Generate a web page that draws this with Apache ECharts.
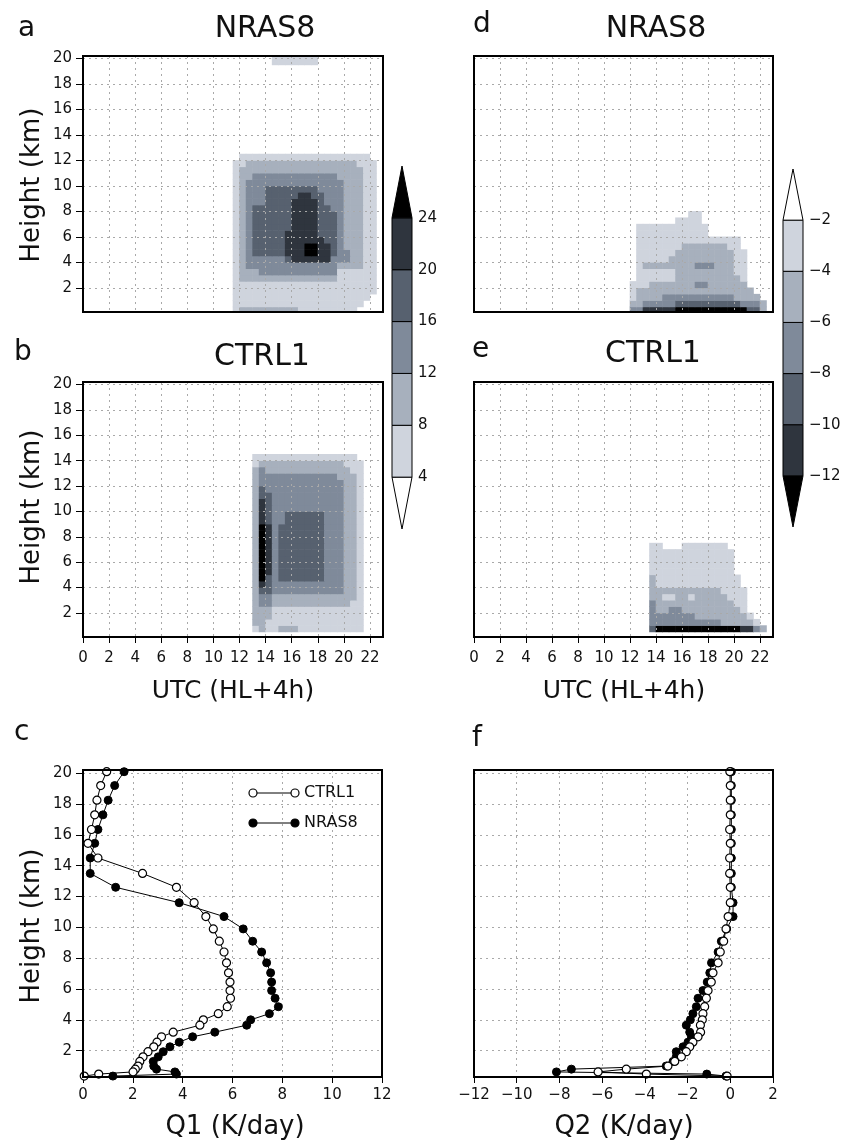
<!DOCTYPE html>
<html>
<head>
<meta charset="utf-8">
<script src="https://cdn.jsdelivr.net/npm/echarts@6/dist/echarts.min.js"></script>
<style>html,body{margin:0;padding:0;background:#fff}#chart{width:859px;height:1142px}</style>
</head>
<body>
<div id="chart"></div>
<script>
// ---------------- DATA ----------------
// time columns (UTC hour, cell centres) shared by the four time-height panels
const hourCols = [11.75,12.25,12.75,13.25,13.75,14.25,14.75,15.25,15.75,16.25,16.75,17.25,17.75,18.25,18.75,19.25,19.75,20.25,20.75,21.25,21.75,22.25,22.75];

// (a) Q1, NRAS8  (K/day) - rows at these heights (km)
const heightsA = [0.25,0.75,1.25,1.75,2.25,2.75,3.25,3.75,4.25,4.75,5.25,5.75,6.25,6.75,7.25,7.75,8.25,8.75,9.25,9.75,10.25,10.75,11.25,11.75,12.25,19.75,20.25];
const q1NRAS8 = [
 [6,10,10,10,10,10,10,10,10,10,6,6,6,6,6,6,6,6,6,0,0,0,0],
 [6,6,6,6,6,6,6,6,6,6,6,6,6,6,6,6,6,6,6,6,0,0,0],
 [6,6,6,6,6,6,6,6,6,6,6,6,6,6,6,6,6,6,6,6,6,0,0],
 [6,6,6,6,6,6,6,6,6,6,6,6,6,6,6,6,6,6,6,6,6,6,0],
 [6,6,6,6,6,6,6,6,6,6,6,6,6,6,6,6,6,6,6,6,6,6,0],
 [6,10,10,10,10,10,10,10,10,10,10,10,10,10,10,10,6,6,6,6,6,6,0],
 [6,10,10,10,14,14,14,14,14,14,14,14,14,14,14,14,6,6,6,6,6,6,0],
 [6,10,14,14,14,14,14,14,14,14,14,14,14,14,14,14,10,10,10,10,6,6,0],
 [6,10,14,14,14,14,14,14,18,22,22,22,22,22,22,14,14,14,10,10,6,6,0],
 [6,10,14,18,18,18,18,18,22,22,22,26,26,22,22,18,14,14,10,10,6,6,0],
 [6,10,14,18,18,18,18,18,22,22,22,26,26,22,22,18,14,10,10,10,6,6,0],
 [6,10,14,18,18,18,18,18,22,22,22,22,22,22,18,18,14,10,10,10,6,6,0],
 [6,10,14,18,18,18,18,18,22,22,22,22,22,18,18,18,14,10,10,10,6,6,0],
 [6,10,14,18,18,18,18,18,18,22,22,22,22,18,18,18,14,10,10,10,6,6,0],
 [6,10,14,18,18,18,18,18,18,22,22,22,22,18,18,18,14,10,10,10,6,6,0],
 [6,10,14,18,18,18,18,18,18,22,22,22,22,18,18,18,14,10,10,10,6,6,0],
 [6,10,14,18,18,18,18,18,18,22,22,22,22,18,18,14,14,10,10,10,6,6,0],
 [6,10,14,14,14,18,18,18,18,22,22,22,22,18,14,14,14,10,10,10,6,6,0],
 [6,10,14,14,14,18,18,18,18,18,22,22,18,18,14,14,14,10,10,10,6,6,0],
 [6,10,14,14,14,18,18,18,18,18,18,18,18,14,14,14,14,10,10,10,6,6,0],
 [6,10,14,14,14,14,14,14,14,14,14,14,14,14,14,14,14,10,10,10,6,6,0],
 [6,10,10,14,14,14,14,14,14,14,14,14,14,14,14,14,10,10,10,10,6,6,0],
 [6,10,10,10,10,10,10,10,10,10,10,10,10,10,10,10,10,10,10,10,6,6,0],
 [6,6,10,10,10,10,10,10,10,10,10,10,10,10,10,10,10,10,10,6,6,6,0],
 [0,6,6,6,6,6,6,6,6,6,6,6,6,6,6,6,6,6,6,6,6,0,0],
 [0,0,0,0,0,0,6,6,6,6,6,6,6,0,0,0,0,0,0,0,0,0,0],
 [0,0,0,0,0,0,6,6,6,6,6,6,6,0,0,0,0,0,0,0,0,0,0]
];

// (b) Q1, CTRL1
const heightsB = [0.75,1.25,1.75,2.25,2.75,3.25,3.75,4.25,4.75,5.25,5.75,6.25,6.75,7.25,7.75,8.25,8.75,9.25,9.75,10.25,10.75,11.25,11.75,12.25,12.75,13.25,13.75,14.25];
const q1CTRL1 = [
 [0,0,0,6,10,6,6,10,10,10,6,6,6,6,6,6,6,6,6,6,0,0,0],
 [0,0,0,10,10,6,6,6,6,6,6,6,6,6,6,6,6,6,6,6,0,0,0],
 [0,0,0,10,10,10,6,6,6,6,6,6,6,6,6,6,6,6,6,6,0,0,0],
 [0,0,0,10,10,10,6,6,6,6,6,6,6,6,6,6,6,6,6,6,0,0,0],
 [0,0,0,10,14,14,10,10,10,10,10,10,10,10,10,10,10,10,6,6,0,0,0],
 [0,0,0,10,14,14,10,10,10,10,10,10,10,10,10,10,10,10,10,6,0,0,0],
 [0,0,0,10,18,18,14,14,14,14,14,14,14,14,14,14,14,10,10,6,0,0,0],
 [0,0,0,10,22,18,14,14,14,14,14,14,14,14,14,14,14,10,10,6,0,0,0],
 [0,0,0,10,26,18,14,18,18,18,18,18,18,18,14,14,14,10,10,6,0,0,0],
 [0,0,0,10,26,22,14,18,18,18,18,18,18,18,14,14,14,10,10,6,0,0,0],
 [0,0,0,10,26,22,14,18,18,18,18,18,18,18,14,14,14,10,10,6,0,0,0],
 [0,0,0,10,26,22,14,18,18,18,18,18,18,18,14,14,14,10,10,6,0,0,0],
 [0,0,0,10,26,22,14,18,18,18,18,18,18,18,14,14,14,10,10,6,0,0,0],
 [0,0,0,10,26,22,14,18,18,18,18,18,18,18,14,14,14,10,10,6,0,0,0],
 [0,0,0,10,26,22,14,18,18,18,18,18,18,18,14,14,14,10,10,6,0,0,0],
 [0,0,0,10,26,22,14,18,18,18,18,18,18,18,14,14,14,10,10,6,0,0,0],
 [0,0,0,10,26,22,14,18,18,18,18,18,18,18,14,14,14,10,10,6,0,0,0],
 [0,0,0,10,22,18,14,14,18,18,18,18,18,18,14,14,14,10,10,6,0,0,0],
 [0,0,0,10,22,18,14,14,18,18,18,18,18,18,14,14,14,10,10,6,0,0,0],
 [0,0,0,10,22,18,14,14,14,14,14,14,14,14,14,14,14,10,10,6,0,0,0],
 [0,0,0,10,22,18,14,14,14,14,14,14,14,14,14,14,14,10,10,6,0,0,0],
 [0,0,0,10,18,18,14,14,14,14,14,14,14,14,14,14,14,10,10,6,0,0,0],
 [0,0,0,10,18,14,14,14,14,14,14,14,14,14,14,14,14,10,10,6,0,0,0],
 [0,0,0,10,14,14,14,14,14,14,14,14,14,14,14,14,14,10,10,6,0,0,0],
 [0,0,0,10,14,14,14,14,14,14,14,14,14,14,14,14,10,10,10,6,0,0,0],
 [0,0,0,10,14,10,10,10,10,10,10,10,10,10,10,10,10,10,6,6,0,0,0],
 [0,0,0,6,10,10,10,10,10,10,10,10,10,10,10,10,10,6,6,6,0,0,0],
 [0,0,0,6,6,6,6,6,6,6,6,6,6,6,6,6,6,6,6,0,0,0,0]
];

// (d) Q2, NRAS8
const heightsD = [0.25,0.75,1.25,1.75,2.25,2.75,3.25,3.75,4.25,4.75,5.25,5.75,6.25,6.75,7.25,7.75];
const q2NRAS8 = [
 [0,-7,-7,-11,-11,-11,-11,-11,-13,-13,-13,-13,-13,-13,-13,-13,-13,-13,-13,-9,-9,-5,0],
 [0,-5,-5,-7,-7,-7,-7,-7,-9,-9,-9,-9,-9,-9,-9,-9,-9,-9,-7,-7,-7,-5,0],
 [0,-3,-5,-5,-5,-5,-7,-7,-7,-7,-7,-7,-7,-7,-7,-7,-7,-5,-5,-5,-5,0,0],
 [0,-3,-5,-5,-5,-5,-5,-5,-5,-5,-5,-5,-5,-5,-5,-5,-5,-5,-5,-5,0,0,0],
 [0,-3,-3,-3,-5,-5,-5,-5,-5,-5,-5,-7,-7,-5,-5,-5,-5,-5,-5,0,0,0,0],
 [0,0,-3,-3,-3,-3,-3,-3,-5,-5,-5,-5,-5,-5,-5,-5,-5,-5,-3,0,0,0,0],
 [0,0,-3,-3,-3,-3,-3,-3,-5,-5,-5,-5,-5,-5,-5,-5,-5,-3,-3,0,0,0,0],
 [0,0,-3,-5,-5,-5,-5,-5,-5,-5,-5,-7,-7,-7,-5,-5,-5,-3,-3,0,0,0,0],
 [0,0,-3,-3,-3,-3,-3,-5,-5,-5,-5,-5,-5,-5,-5,-5,-5,-3,-3,0,0,0,0],
 [0,0,-3,-3,-3,-3,-3,-3,-5,-5,-5,-5,-5,-5,-5,-5,-5,-3,-3,0,0,0,0],
 [0,0,-3,-3,-3,-3,-3,-3,-3,-5,-5,-5,-5,-5,-5,-5,-3,-3,0,0,0,0,0],
 [0,0,-3,-3,-3,-3,-3,-3,-3,-3,-3,-3,-3,-3,-3,-3,-3,-3,0,0,0,0,0],
 [0,0,-3,-3,-3,-3,-3,-3,-3,-3,-3,-3,-3,0,0,0,0,0,0,0,0,0,0],
 [0,0,-3,-3,-3,-3,-3,-3,-3,-3,-3,-3,-3,0,0,0,0,0,0,0,0,0,0],
 [0,0,0,0,0,0,0,0,-3,-3,-3,-3,0,0,0,0,0,0,0,0,0,0,0],
 [0,0,0,0,0,0,0,0,0,0,-3,-3,0,0,0,0,0,0,0,0,0,0,0]
];

// (e) Q2, CTRL1
const heightsE = [0.75,1.25,1.75,2.25,2.75,3.25,3.75,4.25,4.75,5.25,5.75,6.25,6.75,7.25];
const q2CTRL1 = [
 [0,0,0,0,-9,-13,-13,-13,-13,-13,-13,-13,-13,-13,-13,-13,-13,-13,-11,-11,-7,-5,0],
 [0,0,0,0,-7,-7,-7,-7,-7,-7,-7,-7,-7,-7,-7,-5,-5,-5,-5,-5,-3,0,0],
 [0,0,0,0,-7,-7,-7,-7,-7,-7,-7,-5,-5,-5,-5,-5,-5,-5,-5,-3,0,0,0],
 [0,0,0,0,-7,-5,-5,-7,-7,-5,-5,-5,-5,-5,-5,-5,-5,-5,-3,0,0,0,0],
 [0,0,0,0,-7,-5,-5,-5,-5,-5,-5,-5,-5,-5,-5,-5,-5,-3,-3,0,0,0,0],
 [0,0,0,0,-5,-5,-3,-3,-5,-5,-3,-5,-5,-5,-5,-5,-3,-3,-3,0,0,0,0],
 [0,0,0,0,-5,-5,-5,-5,-5,-5,-5,-5,-5,-5,-5,-3,-3,-3,-3,0,0,0,0],
 [0,0,0,0,-5,-3,-3,-3,-3,-3,-3,-3,-3,-3,-3,-3,-3,-3,0,0,0,0,0],
 [0,0,0,0,-5,-3,-3,-3,-3,-3,-3,-3,-3,-3,-3,-3,-3,-3,0,0,0,0,0],
 [0,0,0,0,-3,-3,-3,-3,-3,-3,-3,-3,-3,-3,-3,-3,-3,0,0,0,0,0,0],
 [0,0,0,0,-3,-3,-3,-3,-3,-3,-3,-3,-3,-3,-3,-3,-3,0,0,0,0,0,0],
 [0,0,0,0,-3,-3,-3,-3,-3,-3,-3,-3,-3,-3,-3,-3,-3,0,0,0,0,0,0],
 [0,0,0,0,-3,-3,-3,-3,-3,-3,-3,-3,-3,-3,-3,-3,-3,0,0,0,0,0,0],
 [0,0,0,0,-3,-3,0,0,0,-3,-3,-3,-3,-3,-3,-3,0,0,0,0,0,0,0]
];

// (c),(f) daily-mean profiles on model levels (km)
const profileKm = [20.1,19.2,18.25,17.3,16.35,15.45,14.5,13.5,12.6,11.6,10.7,9.9,9.1,8.4,7.7,7.05,6.45,5.9,5.4,4.85,4.4,4.0,3.65,3.2,2.9,2.55,2.25,1.93,1.6,1.3,1.0,0.8,0.62,0.48,0.35];
const q1ProfileCTRL1 = [0.95,0.71,0.56,0.47,0.34,0.20,0.60,2.39,3.75,4.46,4.93,5.23,5.47,5.66,5.76,5.84,5.90,5.90,5.92,5.79,5.43,4.83,4.69,3.62,3.15,2.97,2.84,2.61,2.41,2.28,2.21,2.10,2.01,0.63,0.05];
const q1ProfileNRAS8 = [1.65,1.27,1.01,0.80,0.60,0.47,0.29,0.29,1.31,3.86,5.66,6.43,6.81,7.17,7.37,7.53,7.57,7.57,7.71,7.84,7.48,6.73,6.57,5.29,4.40,3.86,3.49,3.22,3.02,2.82,2.84,2.95,3.69,3.75,1.20];
const q2ProfileCTRL1 = [-0.02,0.0,0.0,0.0,-0.03,0.0,-0.03,-0.03,0.0,0.0,-0.10,-0.20,-0.31,-0.47,-0.57,-0.81,-0.89,-1.04,-1.12,-1.20,-1.28,-1.31,-1.40,-1.39,-1.51,-1.75,-1.90,-2.06,-2.29,-2.60,-2.92,-4.87,-6.19,-3.93,-0.15];
const q2ProfileNRAS8 = [0.05,0.05,0.05,0.05,0.05,0.05,0.05,0.05,0.05,0.13,0.13,-0.17,-0.42,-0.57,-0.88,-0.96,-1.08,-1.28,-1.51,-1.59,-1.75,-1.87,-2.06,-1.90,-1.82,-1.98,-2.21,-2.53,-2.53,-2.68,-3.00,-7.44,-8.14,-1.10,-0.20];

// contour levels & tick labels
const q1Levels = [4,8,12,16,20,24];
const q2Levels = [-12,-10,-8,-6,-4,-2];
const heightTicks = [2,4,6,8,10,12,14,16,18,20];
const utcTicks = [0,2,4,6,8,10,12,14,16,18,20,22];

// ---------------- STYLE ----------------
const shades = ['#cfd4dd','#a7b0bd','#7f8a9a','#57616f','#2f353e','#000000'];
const FONT = '"DejaVu Sans", "Liberation Sans", sans-serif';
const CELL_HALF_W = 0.25, CELL_HALF_H = 0.25;

function q1Color(v){ let c=-1; q1Levels.forEach((l,i)=>{ if(v>=l) c=i; }); return c<0?null:shades[c]; }
function q2Color(v){ let c=-1; q2Levels.slice().reverse().forEach((l,i)=>{ if(v<=l) c=i; }); return c<0?null:shades[c]; }

function cells(rows, heights){
  const out=[];
  rows.forEach((row,i)=>row.forEach((v,k)=>{ if(v!==0) out.push([hourCols[k], heights[i], v]); }));
  return out;
}
function cellRender(colorFn){
  return function(params, api){
    const x=api.value(0), y=api.value(1), v=api.value(2);
    const fill=colorFn(v); if(!fill) return null;
    const p0=api.coord([x-CELL_HALF_W, y+CELL_HALF_H]);
    const p1=api.coord([x+CELL_HALF_W, y-CELL_HALF_H]);
    const cs=params.coordSys;
    const r=echarts.graphic.clipRectByRect(
      {x:p0[0]-0.3, y:p0[1]-0.3, width:p1[0]-p0[0]+0.6, height:p1[1]-p0[1]+0.6},
      {x:cs.x, y:cs.y, width:cs.width, height:cs.height});
    return r ? {type:'rect', shape:r, style:{fill:fill}} : null;
  };
}

const layout = {
  a:{left:83, top:56, width:300, height:256},
  b:{left:83, top:382, width:300, height:255},
  d:{left:474, top:56, width:299, height:256},
  e:{left:474, top:382, width:299, height:255},
  c:{left:83, top:770, width:299, height:307},
  f:{left:474, top:770, width:299, height:307},
  cb1:{left:392, top:166, width:20, height:363},
  cb2:{left:783, top:169, width:20, height:358}
};
const order = ['a','b','d','e','c','f','cb1','cb2'];

const gridLine = {show:true, lineStyle:{color:'#a9a9a9', width:1, type:[2,4]}};
const labelStyle = {color:'#111', fontSize:15, fontFamily:FONT};
const minus = v => (v<0 ? '\u2212'+Math.abs(v) : String(v));

function utcAxis(gi, labels){
  return {type:'value', gridIndex:gi, min:0, max:23, interval:2, z:3,
    axisLine:{show:false},
    axisTick:{show:labels, length:6, customValues:utcTicks, lineStyle:{color:'#000'}},
    axisLabel:{show:labels, margin:14, ...labelStyle, customValues:utcTicks},
    splitLine:gridLine};
}
function heightAxis(gi, labels, min, max){
  return {type:'value', gridIndex:gi, min:min, max:max, z:3,
    axisLine:{show:false},
    axisTick:{show:labels, length:7, customValues:heightTicks, lineStyle:{color:'#000'}},
    axisLabel:{show:labels, margin:11, ...labelStyle, customValues:heightTicks},
    splitLine:gridLine};
}

// colour-bar pieces: [low, high, kind]  kind -1 lower arrow, 0 box, 1 upper arrow
function barPieces(levels, lo, hi){
  const p=[[lo, levels[0], -1]];
  for(let i=0;i<levels.length-1;i++) p.push([levels[i], levels[i+1], 0]);
  p.push([levels[levels.length-1], hi, 1]);
  return p;
}
function barRender(fills){
  return function(params, api){
    const lo=api.value(0), hi=api.value(1), kind=api.value(2);
    const a=api.coord([0, hi]), b=api.coord([1, lo]);
    const fill=fills[params.dataIndex];
    const st={fill:fill, stroke:'#000', lineWidth:1};
    if(kind===0) return {type:'rect', shape:{x:a[0], y:a[1], width:b[0]-a[0], height:b[1]-a[1]}, style:st};
    const mid=(a[0]+b[0])/2;
    const pts = kind<0 ? [[a[0],a[1]],[b[0],a[1]],[mid,b[1]]] : [[a[0],b[1]],[b[0],b[1]],[mid,a[1]]];
    return {type:'polygon', shape:{points:pts}, style:st};
  };
}
const q1BarFills = ['#ffffff'].concat(shades);               // under, 4-8 ... 20-24, over
const q2BarFills = ['#000000'].concat(shades.slice(0,5).reverse()).concat(['#ffffff']);

function profileSeries(name, xs, gi, open){
  return {type:'line', name:name, xAxisIndex:gi, yAxisIndex:gi, z:4,
    data: profileKm.map((h,i)=>[xs[i], h]),
    symbol:'circle', symbolSize:8, showSymbol:true, clip:true,
    lineStyle:{color:'#000', width:1},
    itemStyle: open ? {color:'#fff', borderColor:'#000', borderWidth:1.2} : {color:'#000', borderColor:'#000', borderWidth:1},
    emphasis:{disabled:true}, animation:false};
}

const grids = order.map(k=>({left:layout[k].left, top:layout[k].top, width:layout[k].width, height:layout[k].height, show:false}));

const xAxes = [
  utcAxis(0,false), utcAxis(1,true), utcAxis(2,false), utcAxis(3,true),
  {type:'value', gridIndex:4, min:0, max:12, interval:2, z:3, axisLine:{show:false},
   axisTick:{show:true, length:6, lineStyle:{color:'#000'}}, axisLabel:{margin:11, ...labelStyle}, splitLine:gridLine},
  {type:'value', gridIndex:5, min:-12, max:2, interval:2, z:3, axisLine:{show:false},
   axisTick:{show:true, length:6, lineStyle:{color:'#000'}}, axisLabel:{margin:11, ...labelStyle, formatter:minus}, splitLine:gridLine},
  {type:'value', gridIndex:6, min:0, max:1, show:false},
  {type:'value', gridIndex:7, min:0, max:1, show:false}
];
const yAxes = [
  heightAxis(0,true,0.1,20.2), heightAxis(1,true,0.1,20.2),
  heightAxis(2,false,0.1,20.2), heightAxis(3,false,0.1,20.2),
  heightAxis(4,true,0.29,20.21), heightAxis(5,false,0.29,20.21),
  {type:'value', gridIndex:6, min:0, max:28, position:'right', axisLine:{show:false}, splitLine:{show:false},
   axisTick:{show:true, length:4, customValues:q1Levels, lineStyle:{color:'#000'}},
   axisLabel:{margin:6, ...labelStyle, customValues:q1Levels}},
  {type:'value', gridIndex:7, min:-14, max:0, position:'right', axisLine:{show:false}, splitLine:{show:false},
   axisTick:{show:true, length:4, customValues:q2Levels, lineStyle:{color:'#000'}},
   axisLabel:{margin:6, ...labelStyle, customValues:q2Levels, formatter:minus}}
];

const series = [
  {type:'custom', xAxisIndex:0, yAxisIndex:0, z:1, data:cells(q1NRAS8,heightsA), renderItem:cellRender(q1Color), encode:{x:0,y:1}, animation:false, silent:true},
  {type:'custom', xAxisIndex:1, yAxisIndex:1, z:1, data:cells(q1CTRL1,heightsB), renderItem:cellRender(q1Color), encode:{x:0,y:1}, animation:false, silent:true},
  {type:'custom', xAxisIndex:2, yAxisIndex:2, z:1, data:cells(q2NRAS8,heightsD), renderItem:cellRender(q2Color), encode:{x:0,y:1}, animation:false, silent:true},
  {type:'custom', xAxisIndex:3, yAxisIndex:3, z:1, data:cells(q2CTRL1,heightsE), renderItem:cellRender(q2Color), encode:{x:0,y:1}, animation:false, silent:true},
  profileSeries('NRAS8', q1ProfileNRAS8, 4, false),
  profileSeries('CTRL1', q1ProfileCTRL1, 4, true),
  profileSeries('NRAS8', q2ProfileNRAS8, 5, false),
  profileSeries('CTRL1', q2ProfileCTRL1, 5, true),
  {type:'custom', xAxisIndex:6, yAxisIndex:6, z:2, data:barPieces(q1Levels,0,28), renderItem:barRender(q1BarFills), encode:{y:[0,1]}, animation:false, silent:true},
  {type:'custom', xAxisIndex:7, yAxisIndex:7, z:2, data:barPieces(q2Levels,-14,0), renderItem:barRender(q2BarFills), encode:{y:[0,1]}, animation:false, silent:true}
];

// ---------------- TEXT / FRAMES ----------------
function txt(x,y,s,size,align,rot){
  const o={type:'text', x:x, y:y, z:100, silent:true,
    style:{text:s, font:size+'px '+FONT, fill:'#111', textAlign:align||'left', textVerticalAlign:'middle'}};
  if(rot) o.rotation=rot;
  return o;
}
const graphic = [];
['a','b','d','e','c','f'].forEach(k=>{
  const g=layout[k];
  graphic.push({type:'rect', z:100, silent:true, shape:{x:g.left, y:g.top, width:g.width, height:g.height},
    style:{fill:null, stroke:'#000', lineWidth:2}});
});
graphic.push(
  txt(18,29,'a',28), txt(473,25,'d',28), txt(14,353,'b',28), txt(472,350,'e',28),
  txt(14,733,'c',28), txt(472,739,'f',28),
  txt(265,29,'NRAS8',30,'center'), txt(656,29,'NRAS8',30,'center'),
  txt(262,357,'CTRL1',30,'center'), txt(653,354,'CTRL1',30,'center'),
  txt(32,185,'Height (km)',26,'center',Math.PI/2),
  txt(32,507,'Height (km)',26,'center',Math.PI/2),
  txt(32,926,'Height (km)',26,'center',Math.PI/2),
  txt(233,691,'UTC (HL+4h)',25,'center'),
  txt(624,691,'UTC (HL+4h)',25,'center'),
  txt(235,1127,'Q1 (K/day)',26,'center'),
  txt(624,1127,'Q2 (K/day)',26,'center')
);
// legend of panel c
[[793,'CTRL1','#fff'],[823,'NRAS8','#000']].forEach(([y,name,fill])=>{
  graphic.push({type:'line', z:100, silent:true, shape:{x1:253,y1:y,x2:295,y2:y}, style:{stroke:'#000', lineWidth:1}});
  graphic.push({type:'circle', z:101, silent:true, shape:{cx:253,cy:y,r:4}, style:{fill:fill, stroke:'#000', lineWidth:1.2}});
  graphic.push({type:'circle', z:101, silent:true, shape:{cx:295,cy:y,r:4}, style:{fill:fill, stroke:'#000', lineWidth:1.2}});
  graphic.push(txt(304,y,name,16,'left'));
});

const chart = echarts.init(document.getElementById('chart'), null, {renderer:'canvas'});
chart.setOption({
  backgroundColor:'#ffffff',
  animation:false,
  textStyle:{fontFamily:FONT},
  grid:grids, xAxis:xAxes, yAxis:yAxes, series:series, graphic:graphic
});
</script>
</body>
</html>
